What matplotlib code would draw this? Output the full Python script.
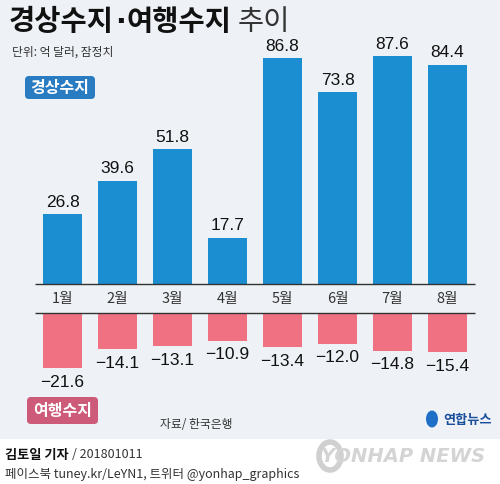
import numpy as np
import matplotlib.pyplot as plt
from matplotlib.patches import FancyBboxPatch, Ellipse

# 데이터
months = ['1월', '2월', '3월', '4월', '5월', '6월', '7월', '8월']
current = [26.8, 39.6, 51.8, 17.7, 86.8, 73.8, 87.6, 84.4]     # 경상수지
travel = [-21.6, -14.1, -13.1, -10.9, -13.4, -12.0, -14.8, -15.4]  # 여행수지

KR = ['Noto Sans CJK KR', 'DejaVu Sans']
NUM = ['Liberation Sans Narrow', 'Liberation Sans', 'DejaVu Sans']
plt.rcParams['font.family'] = KR
plt.rcParams['axes.unicode_minus'] = True

BG = '#eef2f6'
BLUE = '#1b8ed2'
PINK = '#f07282'
W, H = 500, 485

fig = plt.figure(figsize=(5.0, 4.85), dpi=100)
fig.patch.set_facecolor('white')
renderer = fig.canvas.get_renderer()

def fx(px):
    return px / W

def fy(py):
    return 1 - py / H

def right_px(t):
    return t.get_window_extent(renderer).x1

# 배경
bg = fig.add_axes([0, fy(440), 1, 440 / H])
bg.set_facecolor(BG)
bg.set_xticks([]); bg.set_yticks([])
for s in bg.spines.values():
    s.set_visible(False)

x = np.arange(len(months))
x0 = (0 - 62.5) / 55
x1 = (500 - 62.5) / 55
lx0 = (35 - 62.5) / 55
lx1 = (475 - 62.5) / 55

# 경상수지 (위)
top_px, base_px = 40, 285
ax1 = fig.add_axes([0, fy(base_px), 1, (base_px - top_px) / H])
ax1.set_xlim(x0, x1)
ax1.set_ylim(0, (base_px - top_px) / 2.6)
ax1.bar(x, current, width=0.71, color=BLUE)
ax1.hlines(0, lx0, lx1, color='#333333', lw=1.0, clip_on=False)
for xi, v in zip(x, current):
    ax1.annotate(f'{v:.1f}', (xi, v), xytext=(0, 4), textcoords='offset points',
                 ha='center', va='bottom', fontsize=12.5, family=NUM, color='#111111')
ax1.axis('off')

# 여행수지 (아래)
btop_px, bbot_px = 314, 405
ax2 = fig.add_axes([0, fy(bbot_px), 1, (bbot_px - btop_px) / H])
ax2.set_xlim(x0, x1)
ax2.set_ylim(-(bbot_px - btop_px) / 2.55, 0)
ax2.bar(x, travel, width=0.71, color=PINK)
ax2.hlines(0, lx0, lx1, color='#333333', lw=1.0, clip_on=False)
for xi, v in zip(x, travel):
    ax2.annotate(f'\u2212{abs(v):.1f}', (xi, v), xytext=(0, -4), textcoords='offset points',
                 ha='center', va='top', fontsize=12.5, family=NUM, color='#111111')
ax2.axis('off')

# 월 레이블
for xi, m in zip(x, months):
    fig.text(fx(62.5 + 55 * xi), fy(299), m, ha='center', va='center', fontsize=10.5, color='#333333')

# 제목
t = fig.text(fx(9), fy(22), '경상수지', fontsize=20.5, fontweight='bold', va='center', color='#111111')
t = fig.text(fx(right_px(t) + 1), fy(22), '·', fontsize=20.5, fontweight='bold', va='center',
             color='#111111', family=['DejaVu Sans'])
t = fig.text(fx(right_px(t) + 1), fy(22), '여행수지', fontsize=20.5, fontweight='bold', va='center', color='#111111')
fig.text(fx(right_px(t) + 6), fy(22), '추이', fontsize=20.5, va='center', color='#333333')
fig.text(fx(12), fy(52), '단위: 억 달러, 잠정치', fontsize=8.5, va='center', color='#333333')

# 배지
def badge(x_px, y_px, w_px, h_px, label, color):
    p = FancyBboxPatch((fx(x_px), fy(y_px + h_px)), fx(w_px), h_px / H,
                       boxstyle='round,pad=0,rounding_size=0.008',
                       transform=fig.transFigure, facecolor=color, edgecolor='none')
    fig.add_artist(p)
    fig.text(fx(x_px + w_px / 2), fy(y_px + h_px / 2), label, ha='center', va='center',
             fontsize=11.5, fontweight='bold', color='white')

badge(25, 77, 70, 23, '경상수지', '#2a7cc2')
badge(27, 398, 71, 27, '여행수지', '#cc5a78')

fig.text(fx(160), fy(425), '자료/ 한국은행', fontsize=8.5, va='center', color='#333333')
fig.add_artist(Ellipse((fx(432), fy(420)), fx(12), 17 / H, transform=fig.transFigure,
                       facecolor='#1f6fc8', edgecolor='none'))
fig.text(fx(492), fy(420), '연합뉴스', fontsize=9.5, fontweight='bold', va='center', ha='right', color='#1a4f9c')

# 하단
t = fig.text(fx(5), fy(455), '김토일 기자', fontsize=9.5, fontweight='bold', va='center', color='#111111')
fig.text(fx(right_px(t) + 3), fy(455), '/ 201801011', fontsize=9, va='center', color='#333333')
fig.text(fx(5), fy(475), '페이스북 tuney.kr/LeYN1, 트위터 @yonhap_graphics', fontsize=9, va='center', color='#333333')
fig.add_artist(Ellipse((fx(330), fy(457)), fx(22), 28 / H, transform=fig.transFigure,
                       facecolor='none', edgecolor='#d0d0d0', lw=4))
fig.text(fx(485), fy(457), 'YONHAP NEWS', fontsize=14, fontweight='bold', style='italic',
         ha='right', va='center', color='#d4d4d4', family=['DejaVu Sans'])

fig.savefig('out.png', dpi=100, facecolor=fig.get_facecolor())
